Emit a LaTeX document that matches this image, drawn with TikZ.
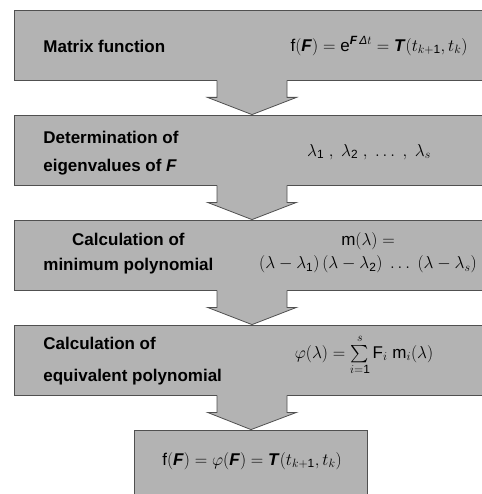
\documentclass[tikz,border=0pt]{standalone}
\usepackage{amsmath}
\usepackage{fontspec}
\setmainfont{Liberation Sans}
\usetikzlibrary{calc}
\definecolor{boxgray}{RGB}{179,179,179}
\definecolor{edgegray}{RGB}{80,80,80}
\newcommand{\bF}{\textbf{\textit{F}}}
\newcommand{\bT}{\textbf{\textit{T}}}
% block arrow from the bottom of one box to the top of the next
\newcommand{\stepdown}[2]{%
  \fill[boxgray] ($(#1.south)+(-35,-1)$) -- ($(#1.south)+(-35,17)$) -- ($(#1.south)+(-44.5,17)$)
    -- (#2.north) -- ($(#1.south)+(44.5,17)$) -- ($(#1.south)+(35,17)$) -- ($(#1.south)+(35,-1)$) -- cycle;
  \draw[edgegray] ($(#1.south)+(-35,0)$) -- ($(#1.south)+(-35,17)$) -- ($(#1.south)+(-44.5,17)$)
    -- (#2.north) -- ($(#1.south)+(44.5,17)$) -- ($(#1.south)+(35,17)$) -- ($(#1.south)+(35,0)$);}

\begin{document}
\begin{tikzpicture}[x=1pt,y=-1pt,line width=0.8pt,
    block/.style={draw=edgegray,fill=boxgray,minimum height=70pt,inner sep=0pt},
    wide/.style={block,minimum width=475pt},
    lbl/.style={anchor=west,align=left,inner sep=0pt,font=\fontsize{17}{20}\selectfont\bfseries},
    eqn/.style={inner sep=0pt,align=center,font=\fontsize{17}{20}\selectfont},
    ]
\useasboundingbox (0,0) rectangle (481,494);

\node[wide] (b1) at (252,45) {};
\node[wide] (b2) at (252,150) {};
\node[wide] (b3) at (252,255) {};
\node[wide] (b4) at (252,360) {};
\node[block,minimum width=233pt] (b5) at (251,465) {};

\stepdown{b1}{b2}
\stepdown{b2}{b3}
\stepdown{b3}{b4}
\stepdown{b4}{b5}

\node[lbl] (t1) at (43,46) {Matrix function};
\node[eqn] (e1) at (379,46) {$\mathrm{f}(\bF) = \mathrm{e}^{\bF\,\textit{Δ}t} = \bT(t_{k+\mathrm{1}},t_k)$};

\node[lbl] (t2) at (43,153) {Determination of\\[8pt]eigenvalues of \textit{F}};
\node[eqn] (e2) at (369,152) {$\lambda_{\mathrm{1}}\ ,\ \lambda_{\mathrm{2}}\ ,\ \ldots\ ,\ \lambda_s$};

\node[lbl,align=center] (t3) at (43,254) {Calculation of\\[5pt]minimum polynomial};
\node[eqn] (e3) at (368,253) {$\mathrm{m}(\lambda) =$\\[3pt]$(\lambda-\lambda_{\mathrm{1}})\,(\lambda-\lambda_{\mathrm{2}})\ \ldots\ (\lambda-\lambda_s)$};

\node[lbl] (t4) at (43,361) {Calculation of\\[12pt]equivalent polynomial};
\node[eqn] (e4) at (364,355) {$\varphi(\lambda) = \sum\limits_{i=\mathrm{1}}^{s}\mathrm{F}_i\ \mathrm{m}_i(\lambda)$};

\node[eqn] (e5) at (252,461) {$\mathrm{f}(\bF) = \varphi(\bF) = \bT(t_{k+\mathrm{1}},t_k)$};
\end{tikzpicture}
\end{document}
